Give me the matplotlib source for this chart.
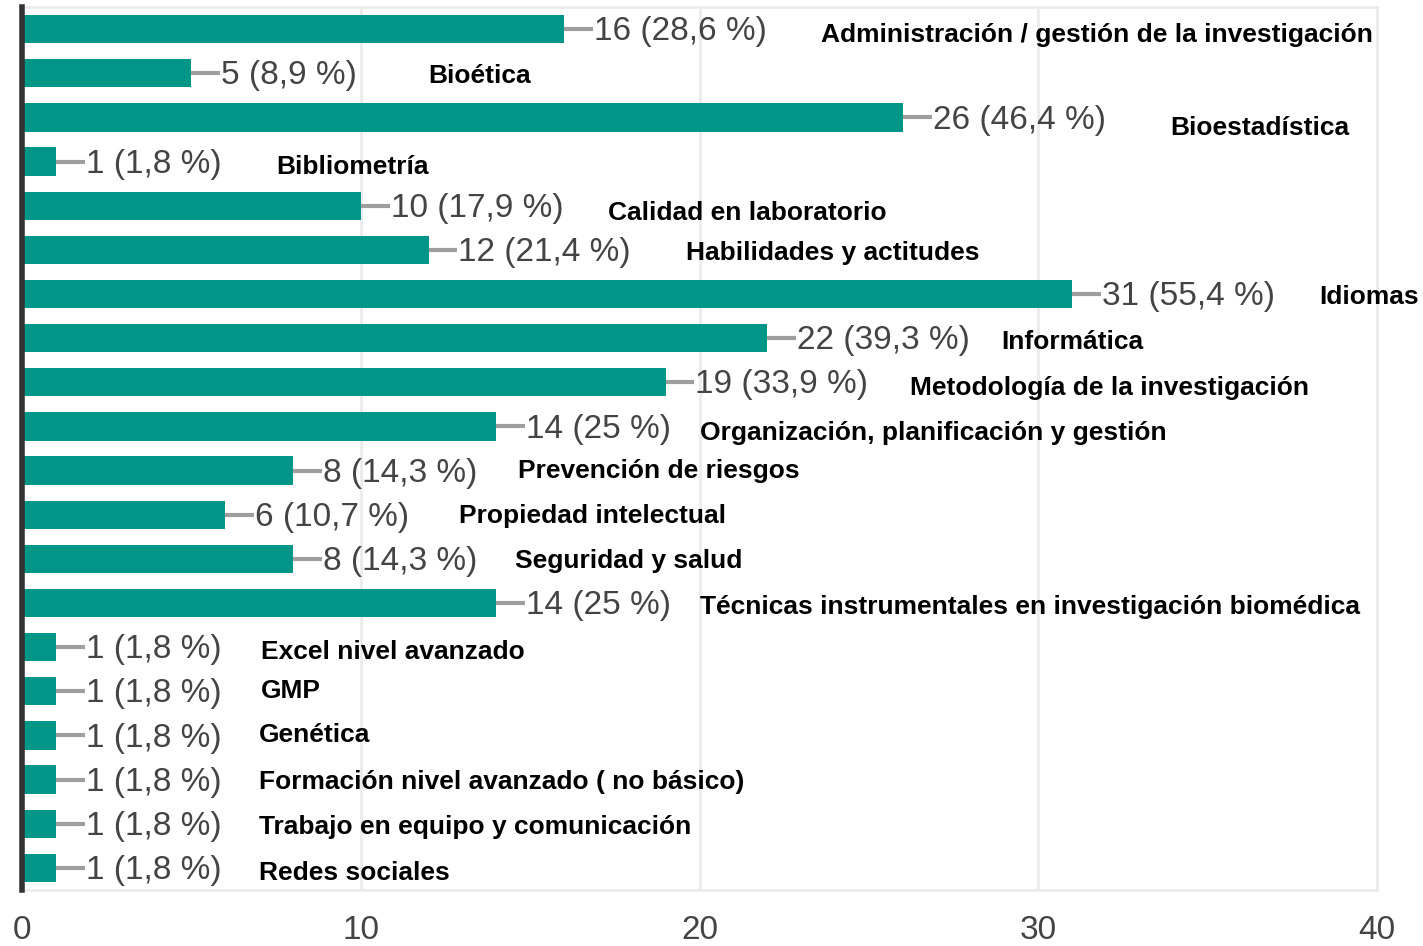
import matplotlib
matplotlib.use("Agg")
import matplotlib.pyplot as plt

categories = [
    "Administración / gestión de la investigación",
    "Bioética",
    "Bioestadística",
    "Bibliometría",
    "Calidad en laboratorio",
    "Habilidades y actitudes",
    "Idiomas",
    "Informática",
    "Metodología de la investigación",
    "Organización, planificación y gestión",
    "Prevención de riesgos",
    "Propiedad intelectual",
    "Seguridad y salud",
    "Técnicas instrumentales en investigación biomédica",
    "Excel nivel avanzado",
    "GMP",
    "Genética",
    "Formación nivel avanzado ( no básico)",
    "Trabajo en equipo y comunicación",
    "Redes sociales",
]
counts = [16, 5, 26, 1, 10, 12, 31, 22, 19, 14, 8, 6, 8, 14, 1, 1, 1, 1, 1, 1]
percents = ["28,6", "8,9", "46,4", "1,8", "17,9", "21,4", "55,4", "39,3", "33,9", "25",
            "14,3", "10,7", "14,3", "25", "1,8", "1,8", "1,8", "1,8", "1,8", "1,8"]

# where the category names sit (x in data units, y shift in bar slots)
label_x = [23.6, 12.0, 33.9, 7.5, 17.3, 19.6, 38.3, 28.9, 26.2, 20.0,
           14.65, 12.9, 14.55, 20.0, 7.05, 7.05, 7.0, 7.0, 7.0, 7.0]
label_dy = [0.07, 0.0, 0.18, 0.05, 0.09, 0.0, 0.0, 0.02, 0.07, 0.09,
            -0.07, -0.05, -0.02, 0.02, 0.05, -0.08, -0.07, -0.02, 0.0, 0.05]

bar_color = "#009688"
text_gray = "#444444"

fig = plt.figure(figsize=(14.23, 9.46), dpi=100)
ax = fig.add_axes([0.0155, 0.0592, 0.9522, 0.9334])

y = list(range(len(categories)))
ax.barh(y, counts, height=0.64, color=bar_color, zorder=2)

for i, (c, p) in enumerate(zip(counts, percents)):
    ax.plot([c, c + 0.85], [i, i], color="#9e9e9e", lw=3, zorder=3, solid_capstyle="butt")
    ax.text(c + 0.88, i + 0.06, f"{c} ({p} %)", va="center", ha="left", fontsize=24,
            family="Liberation Sans", color=text_gray, zorder=4)
    ax.text(label_x[i], i + label_dy[i] + 0.07, categories[i], va="center", ha="left",
            fontsize=19, family="Liberation Sans", fontweight="bold", color="black",
            zorder=4, clip_on=False)

ax.set_xlim(0, 40)
ax.set_ylim(len(categories) - 0.5, -0.5)
ax.set_xticks([0, 10, 20, 30, 40])
ax.set_yticks([])
ax.tick_params(axis="x", length=0, pad=18, labelsize=24, labelcolor=text_gray)
for lab in ax.get_xticklabels():
    lab.set_family("Liberation Sans")
ax.grid(axis="x", color="#ebebeb", lw=2, zorder=0)
ax.set_axisbelow(True)

for side in ["top", "bottom", "right"]:
    ax.spines[side].set_color("#ebebeb")
    ax.spines[side].set_linewidth(2)
ax.spines["left"].set_color("#333333")
ax.spines["left"].set_linewidth(4)
ax.spines["left"].set_zorder(5)

fig.savefig("out.png", dpi=100)
